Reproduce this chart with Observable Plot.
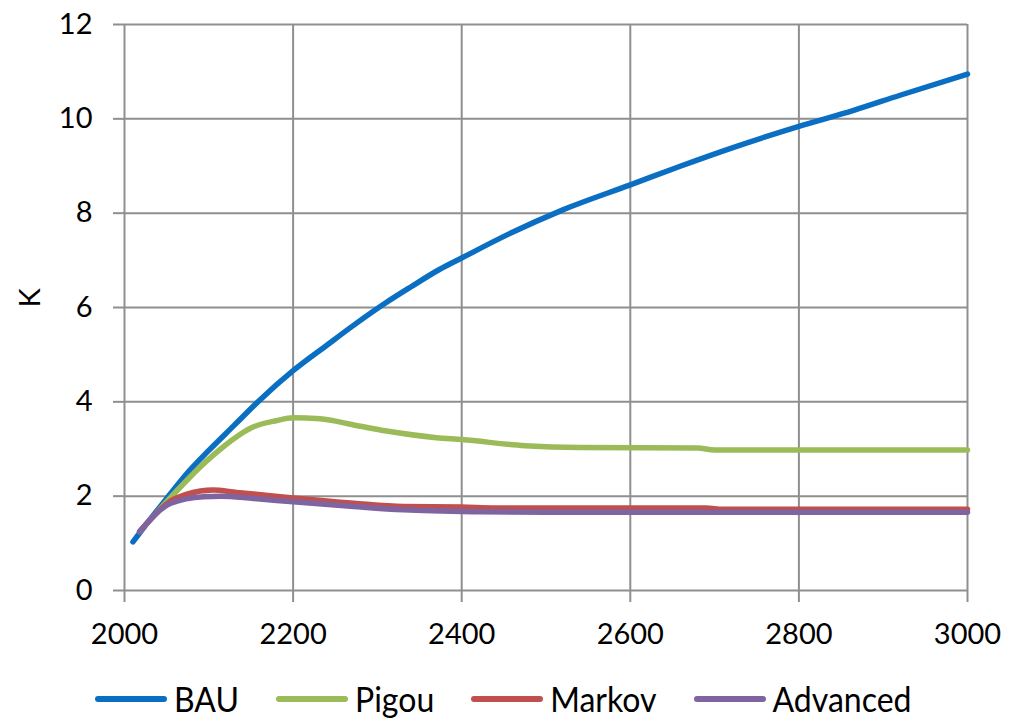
<!DOCTYPE html>
<html>
<head>
<meta charset="utf-8">
<script src="https://cdn.jsdelivr.net/npm/d3@7"></script>
<script src="https://cdn.jsdelivr.net/npm/@observablehq/plot@0.6"></script>
<style>
  html, body { margin: 0; padding: 0; background: #fff; }
  body { width: 1011px; height: 727px; overflow: hidden; font-family: Lato, "Open Sans", sans-serif; }
  #legend { display: flex; align-items: center; height: 57px; padding-left: 95px; box-sizing: border-box; }
  .item { display: flex; align-items: center; margin-right: 37px; }
  .sw { width: 72px; height: 6px; border-radius: 3px; margin-right: 7px; }
  .lab { font-size: 32px; color: #000; line-height: 1; display: inline-block; transform: scaleY(1.1); }
</style>
</head>
<body>
<div id="chart"></div>
<div id="legend"></div>
<script>
const seriesNames = ["BAU", "Pigou", "Markov", "Advanced"];
const seriesColors = ["#0a6fc2", "#9bbb59", "#c0504d", "#8064a2"];

const bauYears = [2010, 2030, 2050, 2075, 2100, 2130, 2160, 2200, 2240, 2270, 2310, 2340, 2373, 2400, 2455, 2520, 2600, 2660, 2720, 2800, 2865, 2920, 3000];
const bauK     = [1.03, 1.50, 1.95, 2.50, 2.97, 3.50, 4.03, 4.66, 5.20, 5.60, 6.10, 6.44, 6.80, 7.05, 7.55, 8.07, 8.60, 9.00, 9.38, 9.84, 10.18, 10.50, 10.95];

const pigouYears = [2018, 2055, 2094, 2114, 2153, 2180, 2200, 2232, 2272, 2311, 2370, 2400, 2475, 2540, 2680, 2700, 3000];
const pigouK     = [1.25, 1.98, 2.69, 3.00, 3.47, 3.60, 3.66, 3.64, 3.51, 3.38, 3.24, 3.20, 3.07, 3.03, 3.02, 2.98, 2.98];

const markovYears = [2018, 2055, 2075, 2105, 2133, 2173, 2200, 2272, 2331, 2400, 2440, 2690, 2710, 3000];
const markovK     = [1.25, 1.90, 2.05, 2.13, 2.08, 2.01, 1.96, 1.85, 1.78, 1.77, 1.75, 1.75, 1.72, 1.72];

const advancedYears = [2018, 2055, 2094, 2114, 2153, 2200, 2272, 2331, 2422, 2500, 3000];
const advancedK     = [1.25, 1.85, 1.99, 2.00, 1.95, 1.88, 1.78, 1.71, 1.67, 1.66, 1.66];

const xTicks = [2000, 2200, 2400, 2600, 2800, 3000];
const yTicks = [0, 2, 4, 6, 8, 10, 12];

const toRows = (name, years, vals) => years.map((y, i) => ({series: name, year: y, k: vals[i]}));
const rows = [
  ...toRows("BAU", bauYears, bauK),
  ...toRows("Pigou", pigouYears, pigouK),
  ...toRows("Markov", markovYears, markovK),
  ...toRows("Advanced", advancedYears, advancedK)
];

const grid = "#8f8f8f";
const chart = Plot.plot({
  width: 1011,
  height: 670,
  marginLeft: 124,
  marginRight: 44,
  marginTop: 24,
  marginBottom: 80,
  style: {fontFamily: "Lato, 'Open Sans', sans-serif", color: "#000", background: "#fff"},
  x: {domain: [2000, 3000]},
  y: {domain: [0, 12]},
  color: {domain: seriesNames, range: seriesColors},
  marks: [
    Plot.gridX(xTicks, {stroke: grid, strokeOpacity: 1, strokeWidth: 2}),
    Plot.gridY(yTicks, {stroke: grid, strokeOpacity: 1, strokeWidth: 2}),
    Plot.axisX(xTicks, {tickSize: 12, tickPadding: 21, stroke: grid, strokeWidth: 2, fontSize: 29, fill: "#000", label: null, tickFormat: d => String(d)}),
    Plot.axisY(yTicks, {tickSize: 11, tickPadding: 21, stroke: grid, strokeWidth: 2, fontSize: 29, fill: "#000", label: null}),
    Plot.text(["K"], {frameAnchor: "left", dx: -94, rotate: -90, fontSize: 29, fill: "#000"}),
    Plot.line(rows, {x: "year", y: "k", z: "series", stroke: "series", strokeWidth: 5.5, curve: "monotone-x", strokeLinecap: "round", strokeLinejoin: "round"})
  ]
});
document.getElementById("chart").appendChild(chart);

const legend = document.getElementById("legend");
seriesNames.forEach((name, i) => {
  const item = document.createElement("div");
  item.className = "item";
  const sw = document.createElement("div");
  sw.className = "sw";
  sw.style.background = seriesColors[i];
  const lab = document.createElement("span");
  lab.className = "lab";
  lab.textContent = name;
  item.appendChild(sw);
  item.appendChild(lab);
  legend.appendChild(item);
});
</script>
</body>
</html>
